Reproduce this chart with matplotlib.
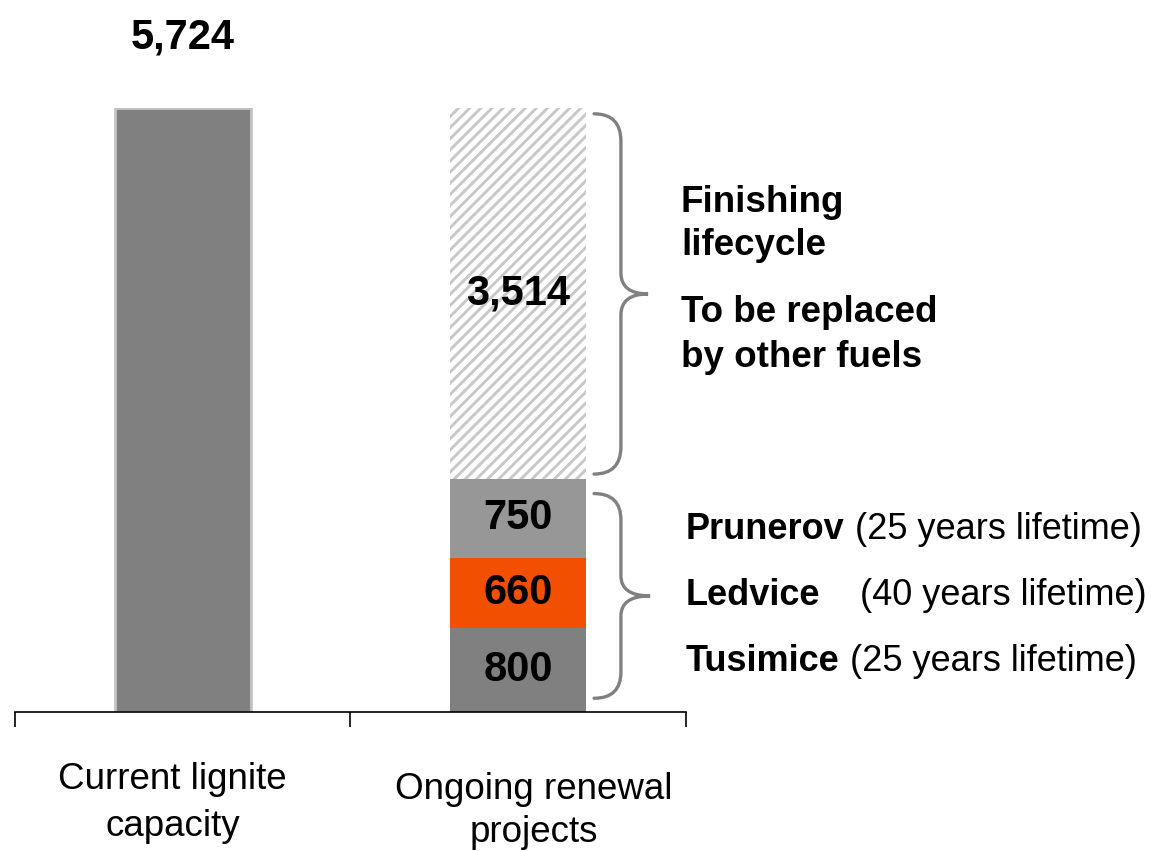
import matplotlib
matplotlib.use("Agg")
import matplotlib.pyplot as plt
from matplotlib.path import Path
from matplotlib.patches import PathPatch

plt.rcParams['font.family'] = ['Liberation Sans', 'DejaVu Sans']
plt.rcParams['hatch.linewidth'] = 2.1

# Data
categories = ["Current lignite\ncapacity", "Ongoing renewal\nprojects"]
current_total = 5724
plant_names = ["Tusimice", "Ledvice", "Prunerov"]
plant_values = [800, 660, 750]
plant_notes = [" (25 years lifetime)", "    (40 years lifetime)", " (25 years lifetime)"]
remaining = 3514
plant_colors = ["#808080", "#f25000", "#979797"]
remaining_notes = ["Finishing", "lifecycle", "To be replaced", "by other fuels"]


def brace(ax, x0, xm, xt, y_bot, y_top, r_end, r_mid, color="#808080"):
    mid = (y_bot + y_top) / 2
    verts = [(x0, y_top), (xm, y_top), (xm, y_top - r_end),
             (xm, mid + r_mid), (xm, mid), (xt, mid),
             (xm, mid), (xm, mid - r_mid),
             (xm, y_bot + r_end), (xm, y_bot), (x0, y_bot)]
    codes = [Path.MOVETO, Path.CURVE3, Path.CURVE3,
             Path.LINETO, Path.CURVE3, Path.CURVE3,
             Path.CURVE3, Path.CURVE3,
             Path.LINETO, Path.CURVE3, Path.CURVE3]
    ax.add_patch(PathPatch(Path(verts, codes), fill=False, edgecolor=color,
                           lw=2.4, clip_on=False, capstyle='round'))


fig = plt.figure(figsize=(11.64, 8.51), dpi=100)
ax = fig.add_axes([15 / 1164, 139 / 851, 671 / 1164, 604 / 851])

width = 0.405
# first bar
ax.bar(0, current_total, width=width, color="#808080", edgecolor="#c4c4c4", linewidth=2)
ax.text(0, current_total * 1.117, f"{current_total:,}", ha='center', va='center',
        fontsize=30, fontweight='bold')

# stacked second bar
bottom = 0
for name, val, col in zip(plant_names, plant_values, plant_colors):
    ax.bar(1, val, width=width, bottom=bottom, color=col, linewidth=0)
    ax.text(1, bottom + val / 2, f"{val:,}", ha='center', va='center', fontsize=30, fontweight='bold')
    bottom += val
plants_total = bottom
ax.bar(1, remaining, width=width, bottom=plants_total, facecolor="white", edgecolor="#c8c8c8",
       hatch="///", linewidth=0)
ax.text(1, plants_total + remaining / 2, f"{remaining:,}", ha='center', va='center',
        fontsize=30, fontweight='bold')

ax.set_xlim(-0.5, 1.5)
ax.set_ylim(0, current_total)

# braces
brace(ax, 1.226, 1.306, 1.387, plants_total + 45, current_total - 55, 260, 200)
brace(ax, 1.226, 1.306, 1.393, 130, plants_total - 140, 250, 190)

# right annotations
tx = 1.485
note_y = [4825, 4417, 3782, 3355]
for txt, y in zip(remaining_notes, note_y):
    ax.text(tx, y, txt, fontsize=26.5, fontweight='bold', va='center')

tx2 = 1.5
row_y = [390, 1015, 1640]
for name, note, y in zip(plant_names, plant_notes, row_y):
    t = ax.text(tx2, y, name, fontsize=26, fontweight='bold', va='baseline')
    ax.annotate(note, xy=(1, 0), xycoords=t, va='bottom', fontsize=26)

# axis styling
for s in ['top', 'right', 'left']:
    ax.spines[s].set_visible(False)
ax.spines['bottom'].set_linewidth(1.2)
ax.set_yticks([])
ax.set_xticks([-0.5, 0.5, 1.5])
ax.set_xticklabels([])
ax.tick_params(axis='x', direction='out', length=11, width=1.2)

lab_x = [-0.03, 1.047]
lab_y = [-0.1507, -0.1639]
lab_ls = [1.42, 1.33]
for lx, ly, ls, lab in zip(lab_x, lab_y, lab_ls, categories):
    ax.text(lx, ly, lab, transform=ax.get_xaxis_transform(), ha='center', va='center',
            fontsize=26.5, linespacing=ls)

fig.savefig("out.png", dpi=100)
